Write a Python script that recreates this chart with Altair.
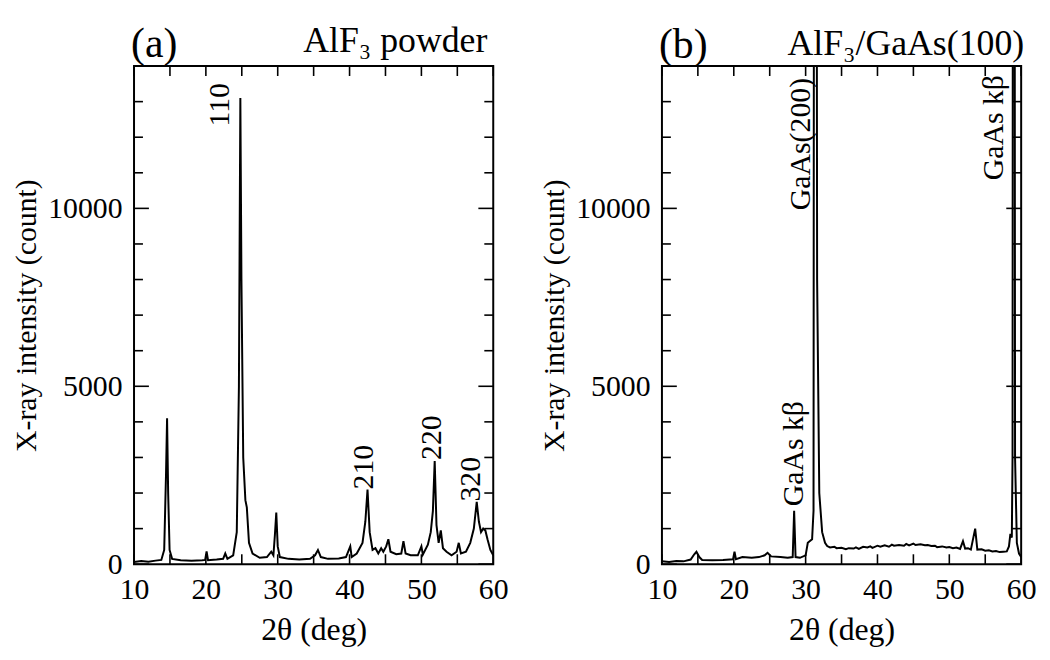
import altair as alt
import pandas as pd

# ---------------- data ----------------
A_X = [10.0, 11.0, 12.0, 13.0, 13.8, 14.2, 14.45, 14.6, 14.75, 14.95, 15.3, 16.5, 18.0, 19.5,
       19.9, 20.1, 20.3, 21.5, 22.4, 22.7, 23.0, 23.8, 24.3, 24.6, 24.8, 24.95, 25.2, 25.5,
       25.7, 26.0, 26.5, 27.5, 28.5, 29.1, 29.4, 29.6, 29.8, 30.0, 30.3, 31.5, 33.0, 34.5,
       35.2, 35.6, 36.0, 37.0, 38.5, 39.5, 40.1, 40.3, 41.0, 41.8, 42.2, 42.5, 42.8, 43.2,
       43.6, 44.0, 44.4, 44.7, 45.1, 45.4, 45.7, 46.5, 47.2, 47.5, 47.8, 48.5, 49.5, 50.0,
       50.2, 50.9, 51.3, 51.6, 51.85, 52.1, 52.4, 52.7, 53.0, 53.5, 54.2, 54.9, 55.2, 55.5,
       56.2, 56.8, 57.3, 57.7, 58.0, 58.3, 58.6, 58.9, 59.2, 59.6, 60.0]
A_Y = [60, 90, 70, 100, 120, 400, 2500, 4100, 2000, 400, 150, 110, 100, 110,
       120, 360, 110, 130, 150, 300, 150, 250, 900, 5000, 13100, 8000, 3000, 1800,
       1600, 600, 300, 180, 200, 350, 250, 800, 1450, 500, 200, 150, 130, 150,
       250, 400, 200, 150, 160, 200, 500, 200, 300, 600, 1200, 2100, 900, 400,
       450, 300, 450, 350, 500, 700, 350, 280, 300, 650, 300, 250, 250, 500,
       270, 550, 900, 1500, 2900, 1100, 600, 950, 450, 350, 250, 350, 600, 300,
       350, 600, 1000, 1750, 1200, 900, 1000, 950, 700, 400, 250]

B_X = [10.0, 11.0, 12.0, 13.0, 14.0, 14.5, 14.8, 15.2, 15.6, 17.0, 18.5, 19.9, 20.1, 20.3,
       21.2, 22.5, 23.5, 24.3, 24.7, 25.2, 26.5, 27.5, 28.2, 28.4, 28.6, 29.2, 30.0, 30.3,
       30.6, 30.9, 31.1, 31.3, 31.6, 31.9, 32.3, 32.7,
       33.0, 33.4, 34.0, 34.3, 35.0, 35.6, 36.0, 36.7, 37.0, 37.4, 38.0, 38.6, 39.0, 39.3,
       40.0, 40.4, 41.0, 41.6, 42.0, 42.3, 43.0, 43.7, 44.0, 44.4, 45.0, 45.3, 46.0, 46.6,
       47.0, 47.5, 48.0, 48.3, 49.0, 49.6, 50.0, 50.5, 51.0, 51.5, 51.9, 52.2, 52.6, 53.0,
       53.6, 53.9, 54.5, 55.0, 55.5, 56.0, 56.5, 57.0, 57.5, 58.0, 58.3, 58.5, 58.7, 58.8,
       58.95, 59.15, 59.4, 59.7, 60.0]
B_Y = [80, 60, 90, 80, 130, 280, 350, 200, 120, 110, 120, 140, 350, 140,
       200, 180, 200, 250, 320, 220, 200, 180, 200, 1500, 200, 180, 250, 600,
       650, 700, 1500, 60000, 8000, 2000, 900, 600,
       510, 470, 490, 450, 460, 420, 450, 440, 470, 430, 490, 470, 500, 460,
       520, 490, 530, 490, 550, 520, 540, 520, 570, 530, 580, 540, 560, 530,
       540, 510, 520, 480, 500, 470, 480, 450, 470, 430, 650, 440, 450, 410,
       1000, 410, 420, 380, 390, 360, 370, 340, 350, 360, 500, 850, 750, 3000,
       60000, 3000, 600, 300, 200]

X_TICKS = [10, 15, 20, 25, 30, 35, 40, 45, 50, 55, 60]
X_LABELS = [10, 20, 30, 40, 50, 60]
Y_MINOR = [1000, 2000, 3000, 4000, 6000, 7000, 8000, 9000, 11000, 12000, 13000]
Y_MAJOR = [0, 5000, 10000]

A_LBL = ["110", "210", "220", "320"]
A_LBL_X = [22.0, 42.0, 51.5, 56.9]
A_LBL_Y = [12300, 2100, 2930, 1760]

B_LBL = ["GaAs(200)", "GaAs kβ", "GaAs kβ"]
B_LBL_X = [29.4, 28.4, 56.2]
B_LBL_Y = [9950, 1630, 10790]

# ---------------- styling ----------------
W, H = 362, 502
FONT = "Liberation Serif"
XDOM = [10, 60]
YDOM = [0, 14000]
XT = "2θ (deg)"
YT = "X-ray intensity (count)"
AX = dict(tickSize=0, domain=False, grid=False, format="d", labelFlush=False,
          labelFont=FONT, titleFont=FONT, labelFontSize=30,
          labelColor="black", titleColor="black", titleFontWeight="normal")


def panel(xs, ys, lbls, lx, ly, tag, name, name_dx, name_dy, tag_dy):
    xsc = alt.Scale(domain=XDOM, nice=False, zero=False, padding=0)
    ysc = alt.Scale(domain=YDOM, nice=False, padding=0)
    xax = alt.Axis(values=X_LABELS, labelPadding=11, titlePadding=10, titleFontSize=32, **AX)
    yax = alt.Axis(values=Y_MAJOR, labelPadding=12, titlePadding=6, titleFontSize=30, **AX)

    def ex(field):
        return alt.X(field, type="quantitative", scale=xsc, title=XT, axis=xax)

    def ey(field):
        return alt.Y(field, type="quantitative", scale=ysc, title=YT, axis=yax)

    df = pd.DataFrame({"x": xs, "y": ys})
    line = alt.Chart(df).mark_line(color="black", strokeWidth=2, clip=True).encode(
        x=ex("x"), y=ey("y"))
    xt = pd.DataFrame({"v": X_TICKS})
    ymi = pd.DataFrame({"v": Y_MINOR})
    yma = pd.DataFrame({"v": Y_MAJOR})
    layers = [line]
    layers.append(alt.Chart(xt).mark_rule(color="black", strokeWidth=1.6).encode(
        x=ex("v"), y=alt.value(H), y2=alt.value(H - 10)))
    layers.append(alt.Chart(xt).mark_rule(color="black", strokeWidth=1.6).encode(
        x=ex("v"), y=alt.value(0), y2=alt.value(10)))
    for d, ln in ((ymi, 9), (yma, 15)):
        layers.append(alt.Chart(d).mark_rule(color="black", strokeWidth=1.6).encode(
            y=ey("v"), x=alt.value(0), x2=alt.value(ln)))
        layers.append(alt.Chart(d).mark_rule(color="black", strokeWidth=1.6).encode(
            y=ey("v"), x=alt.value(W), x2=alt.value(W - ln)))
    ldf = pd.DataFrame({"t": lbls, "x": lx, "y": ly})
    layers.append(alt.Chart(ldf).mark_text(angle=270, align="left", baseline="middle",
                                           font=FONT, fontSize=30, color="black").encode(
        x=ex("x"), y=ey("y"), text="t:N"))
    tdf = pd.DataFrame({"t": [tag]})
    layers.append(alt.Chart(tdf).mark_text(align="left", baseline="alphabetic", font=FONT,
                                           fontSize=42, color="black").encode(
        x=alt.value(-3), y=alt.value(tag_dy), text="t:N"))
    ndf = pd.DataFrame({"t": [name]})
    layers.append(alt.Chart(ndf).mark_text(align="right", baseline="alphabetic", font=FONT,
                                           fontSize=36, color="black").encode(
        x=alt.value(W + name_dx), y=alt.value(name_dy), text="t:N"))
    return alt.layer(*layers).properties(width=W, height=H)


pa = panel(A_X, A_Y, A_LBL, A_LBL_X, A_LBL_Y, "(a)", "AlF₃ powder", -6, -14, -9)
pb = panel(B_X, B_Y, B_LBL, B_LBL_X, B_LBL_Y, "(b)", "AlF₃/GaAs(100)", 3, -11, -8)

chart = alt.hconcat(pa, pb, spacing=30).configure_view(
    stroke="black", strokeWidth=2
).properties(background="white",
             padding={"left": 3, "top": 12, "right": 5, "bottom": 5})

chart.save("out.html", embed_options={"renderer": "svg", "actions": False})
